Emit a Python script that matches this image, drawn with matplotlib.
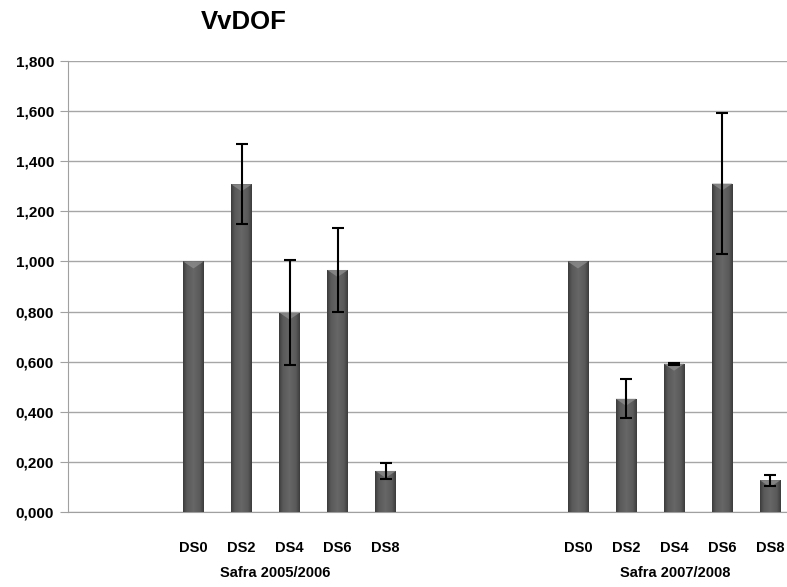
import matplotlib.pyplot as plt
import numpy as np
from matplotlib.colors import LinearSegmentedColormap
from matplotlib.patches import Polygon

# 各サンプルの相対発現量と標準誤差
stages = ["DS0", "DS2", "DS4", "DS6", "DS8"]
seasons = ["Safra 2005/2006", "Safra 2007/2008"]
expr_0506 = [1.000, 1.308, 0.796, 0.966, 0.164]
err_0506 = [0.000, 0.160, 0.208, 0.168, 0.033]
expr_0708 = [1.000, 0.452, 0.592, 1.311, 0.127]
err_0708 = [0.000, 0.078, 0.004, 0.280, 0.022]
y_ticks = [0.0, 0.2, 0.4, 0.6, 0.8, 1.0, 1.2, 1.4, 1.6, 1.8]


def main():
    plt.rcParams["font.family"] = ["Liberation Sans", "DejaVu Sans"]
    fig = plt.figure(figsize=(7.87, 5.87), dpi=100)
    ax = fig.add_axes([68 / 787, 75 / 587, 719 / 787, 451 / 587])

    # 2つのシーズンの間に空きスロットを4つ置く
    x1 = np.arange(len(stages))
    x2 = x1 + 8
    xs = np.concatenate([x1, x2])
    vals = np.array(expr_0506 + expr_0708)
    errs = np.array(err_0506 + err_0708)

    bars = ax.bar(xs, vals, width=0.43, color="#555555", zorder=2)
    # 基準(DS0)には誤差棒を付けない
    has_err = errs > 0
    ax.errorbar(xs[has_err], vals[has_err], yerr=errs[has_err], fmt="none",
                ecolor="black", elinewidth=1.5, capsize=4, capthick=1.5,
                zorder=4)

    # 円柱風のグラデーション
    cmap = LinearSegmentedColormap.from_list(
        "cyl", [(0.0, "#3c3c3c"), (0.18, "#595959"), (0.5, "#676767"),
                (0.82, "#595959"), (1.0, "#3c3c3c")])
    grad = np.linspace(0, 1, 64).reshape(1, -1)
    for b in bars:
        x0, w, h = b.get_x(), b.get_width(), b.get_height()
        im = ax.imshow(grad, cmap=cmap, aspect="auto",
                       extent=(x0, x0 + w, 0, h), zorder=3)
        im.set_clip_path(b)
        tri = Polygon([(x0, h), (x0 + w, h), (x0 + w / 2, h - 0.028)],
                      closed=True, facecolor="#8c8c8c", edgecolor="none",
                      alpha=0.8, zorder=3)
        ax.add_patch(tri)

    ax.set_xlim(-2.61, 12.35)
    ax.set_ylim(0, 1.8)
    ax.set_yticks(y_ticks)
    ax.set_yticklabels([f"{v:.3f}".replace(".", ",") for v in y_ticks],
                       fontsize=11, fontweight="bold")
    ax.yaxis.grid(True, color="#a6a6a6", linewidth=1.0, zorder=0)
    ax.set_axisbelow(True)
    ax.tick_params(axis="y", direction="out", length=6, color="#a0a0a0",
                   pad=4)

    ax.set_xticks(xs)
    ax.set_xticklabels(stages * 2, fontsize=10.5, fontweight="bold")
    ax.tick_params(axis="x", length=0, pad=21)

    for side in ["top", "right"]:
        ax.spines[side].set_visible(False)
    for side in ["left", "bottom"]:
        ax.spines[side].set_color("#a0a0a0")

    # シーズン名
    for xc, name in zip([1.71, 10.02], seasons):
        ax.text(xc, -0.245, name, ha="center", va="center",
                fontsize=10.5, fontweight="bold")

    fig.text(244 / 787, 1 - 22 / 587, "VvDOF", ha="center", va="center",
             fontsize=18.5, fontweight="bold")

    fig.savefig("out.png", dpi=100)


if __name__ == "__main__":
    main()
